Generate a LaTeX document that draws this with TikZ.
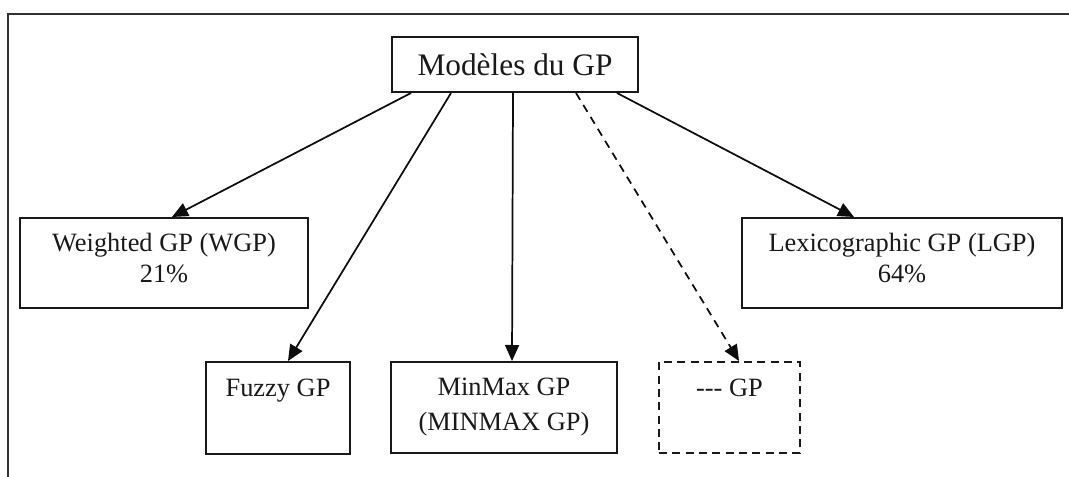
\documentclass[tikz,border=0pt]{standalone}
\usepackage{fontspec}
\setmainfont{Liberation Serif}
\usetikzlibrary{arrows.meta,calc}
\begin{document}
\begin{tikzpicture}[x=0.75pt,y=-0.75pt,
  box/.style={draw=black!90,line width=1.5pt,rectangle,inner sep=0pt},
  dbox/.style={box,dash pattern=on 6pt off 4pt},
  lbl/.style={anchor=north,inner sep=0pt,align=center,text=black!90,
    font=\fontsize{19.8pt}{23pt}\selectfont},
  conn/.style={draw=black!95,line width=1.3pt,-{Triangle[length=12pt,width=10.5pt]}},
  dconn/.style={conn,dash pattern=on 6pt off 4.5pt}]
\useasboundingbox (0,0) rectangle (1069,477);
\draw[black!80,line width=1.8pt] (8,477) -- (8,14) -- (1069,14);
% boxes
\node[box,minimum width=184.5pt,minimum height=41.25pt,text=black!90,
  font=\fontsize{23.5pt}{27pt}\selectfont] (top) at (515,64.5) {Modèles du GP};
\node[box,minimum width=216pt,minimum height=67.5pt] (wgp) at (164,263) {};
\node[box,minimum width=240pt,minimum height=67.5pt] (lgp) at (902,263) {};
\node[box,minimum width=108pt,minimum height=69pt] (fuzzy) at (278,408) {};
\node[box,minimum width=169.5pt,minimum height=68.25pt] (minmax) at (504,407.5) {};
\node[dbox,minimum width=105.75pt,minimum height=68.25pt] (other) at (729.5,407.5) {};
% labels
\node[lbl] (wgpt) at ($(wgp.north)+(0,16)$) {Weighted GP (WGP)\\21\%};
\node[lbl] (lgpt) at ($(lgp.north)+(0,16)$) {Lexicographic GP (LGP)\\64\%};
\node[lbl] (fuzzyt) at ($(fuzzy.north)+(0,18)$) {Fuzzy GP};
\node[lbl] (minmaxt) at ($(minmax.north)+(0,17)$) {MinMax GP\\[3pt](MINMAX GP)};
\node[lbl] (othert) at ($(other.north)+(0,18)$) {-{}-{}- GP};
% connectors
\draw[conn] ($(top.south west)+(20,0)$) -- ($(wgp.north west)+(153,0)$);
\draw[conn] ($(top.south west)+(60,0)$) -- ($(fuzzy.north west)+(83,0)$);
\draw[conn] ($(top.south west)+(122,0)$) -- ($(minmax.north west)+(122,0)$);
\draw[dconn] ($(top.south west)+(185,0)$) -- ($(other.north west)+(81,0)$);
\draw[conn] ($(top.south west)+(226,0)$) -- ($(lgp.north west)+(113,0)$);
\end{tikzpicture}
\end{document}
